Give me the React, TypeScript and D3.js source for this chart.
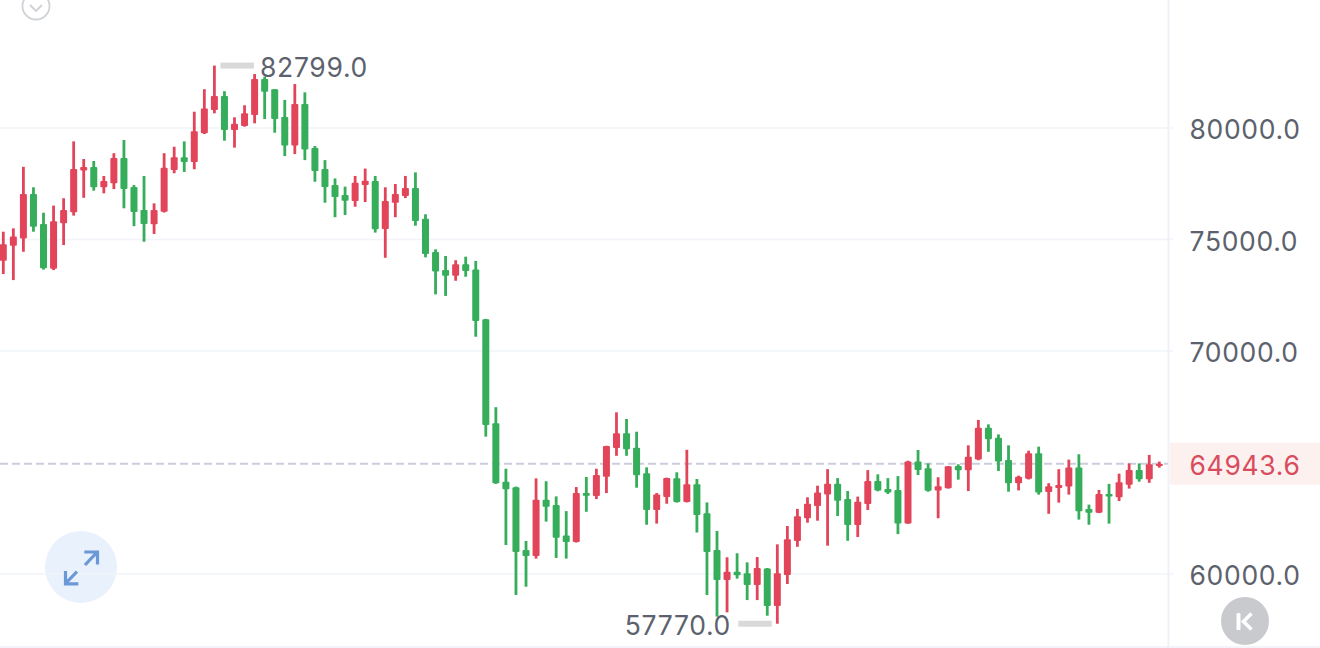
import React from "react";
import * as d3 from "d3";

const highs = [75350,75500,78260,77340,76200,76520,76850,79400,78610,78520,77850,78870,79460,77440,77850,76620,78870,79160,79400,80730,81740,82799,81650,80480,81020,82420,82300,81750,81260,81970,81600,79190,78560,77740,77370,77850,78180,77850,77340,77490,77850,78010,76130,74560,74260,74070,74230,74040,71440,67480,64720,63920,61480,64290,64160,63480,62820,63900,64350,64720,65750,67250,66950,66380,64780,63630,64320,64560,65570,64260,63210,61930,60750,60930,60520,60760,60270,61330,62150,62920,63440,63960,64700,64300,63720,63470,64660,64470,64300,64390,65080,65560,64960,64340,64840,64920,65770,66910,66710,66260,65770,64410,65530,65710,64070,64700,65130,65370,63110,63770,64040,64500,64960,64960,65340,65040];
const lows = [73450,73180,74450,75350,73650,73630,74750,76070,76870,77190,77070,77260,76400,75600,74900,75250,76210,77970,78030,78150,79730,80660,79430,79120,80060,80210,80400,79790,78740,78830,78560,77590,76650,76000,76100,76470,76680,75310,74180,76000,76860,75620,74200,72540,72470,73150,73330,70640,66160,64040,61300,59060,59430,60690,62350,60720,60690,61410,62790,63360,63630,65300,65300,63870,62210,62260,63150,63200,63210,61860,59060,58090,58280,59790,58830,58830,58130,57770,59550,61220,62300,62390,61270,62600,61490,61660,62870,63710,63590,61790,62250,64440,63690,62500,63830,64230,63720,65100,65480,64620,63690,63750,64240,63560,62700,63200,63560,62440,62210,62730,62260,63270,63830,64140,64090,64770];
const opens = [74050,74720,75040,77040,75700,73690,75730,76220,78090,78250,77340,77520,78650,77350,76320,75680,76250,78120,78690,78480,79760,80810,81430,79910,80090,80580,82200,81740,80490,79220,81080,79100,78160,77440,77000,76730,77440,77620,75470,76650,76950,77310,75930,74440,73630,73380,73890,73660,71420,66760,64140,63890,61080,60810,63330,63090,61730,61430,63630,63500,64360,65650,66310,65660,64520,62870,63450,64290,63230,64020,62720,61080,59730,60100,60030,59510,60250,58560,59960,61480,62500,63050,63560,64050,63360,62200,63140,64170,63810,63770,62270,65040,64740,63750,63840,64840,64650,65140,66560,66110,65110,64070,64270,65410,63680,63860,63920,64780,62920,62750,63590,63440,64000,64660,64250,64840];
const closes = [74790,75130,77040,75570,73710,75820,76320,78160,78250,77340,77620,78650,77260,76230,75700,76320,78220,78690,78480,79850,80880,81430,79910,80190,80660,82200,81630,80400,79220,81080,79040,78070,77350,76910,76740,77550,77640,75460,76730,77040,77310,75830,74350,73560,73380,73890,73590,71350,66680,64070,63800,60990,60810,63330,63020,61630,61430,63630,63510,64440,65740,66310,65590,64430,62870,63570,64310,63230,64020,62650,60990,59730,60100,59940,59510,60270,58560,60030,61560,62590,63150,63650,64050,63290,62200,63240,64170,63740,63660,62270,65040,64660,63730,63930,64830,64650,65260,66560,66040,65040,64070,64360,65410,63660,63930,63990,64780,62810,62750,63590,63470,64110,64660,64250,64920,64943.6];

const gridTicks = [60000, 70000, 75000, 80000];
const lastPrice = 64943.6;
const maxPrice = 82799;
const minPrice = 57770;

const UP = "#e2455a";
const DOWN = "#35ad5a";
const FONT = "Inter, 'Noto Sans', sans-serif";
const AXIS_TEXT = "#5c626d";
const GRID = "#f1f4f9";
const FONT_SIZE = 26.5;
const SPACING = 0.68;

export default function App() {
  const x = d3.scaleLinear().domain([0, highs.length - 1]).range([3.3, 1159.3]);
  const y = d3.scaleLinear().domain([60000, 80000]).range([574, 128]);
  const fmt = d3.format(".1f");
  const bodyW = 7;
  const wickW = 2.8;
  const hiIdx = highs.indexOf(maxPrice);
  const loIdx = lows.indexOf(minPrice);

  return (
    <svg
      width={1320}
      height={648}
      viewBox="0 0 1320 648"
      style={{ position: "fixed", left: 0, top: 0, display: "block", background: "#fff" }}
    >
      {/* expand button under grid */}
      <circle cx={81} cy={567} r={36} fill="#e9f1fc" />

      {gridTicks.map((t) => (
        <line key={t} x1={0} x2={1173} y1={y(t)} y2={y(t)} stroke={GRID} strokeWidth={1.6} />
      ))}
      <line x1={1168.5} x2={1168.5} y1={0} y2={648} stroke="#eef1f8" strokeWidth={2} />
      <line x1={0} x2={1320} y1={647} y2={647} stroke="#eef1f8" strokeWidth={1.5} />

      {/* last price line */}
      <line
        x1={0}
        x2={1168}
        y1={y(lastPrice)}
        y2={y(lastPrice)}
        stroke="#cbcddd"
        strokeWidth={2.2}
        strokeDasharray="8 4"
      />
      <rect x={1170} y={y(lastPrice) - 21} width={150} height={42} fill="#fdf1f0" />

      {/* candles */}
      {highs.map((h, i) => {
        const color = closes[i] >= opens[i] ? UP : DOWN;
        const top = y(Math.max(opens[i], closes[i]));
        const bot = y(Math.min(opens[i], closes[i]));
        return (
          <g key={i} fill={color}>
            <rect x={x(i) - wickW / 2} width={wickW} y={y(h)} height={y(lows[i]) - y(h)} />
            <rect x={x(i) - bodyW / 2} width={bodyW} y={top} height={Math.max(bot - top, 1)} rx={1} />
          </g>
        );
      })}

      {/* high / low markers */}
      <rect x={x(hiIdx) + 6} y={y(maxPrice) - 3} width={33.5} height={6} fill="#d9d9d9" />
      <text x={260} y={y(maxPrice) + 1.5} dominantBaseline="central" fontFamily={FONT} fontSize={FONT_SIZE} letterSpacing={SPACING} fill={AXIS_TEXT}>
        {fmt(maxPrice)}
      </text>
      <rect x={x(loIdx) - 39} y={y(minPrice) - 3} width={33.5} height={6} fill="#d9d9d9" />
      <text x={731} y={y(minPrice) + 1.5} textAnchor="end" dominantBaseline="central" fontFamily={FONT} fontSize={FONT_SIZE} letterSpacing={SPACING} fill={AXIS_TEXT}>
        {fmt(minPrice)}
      </text>

      {/* axis labels */}
      {gridTicks.map((t) => (
        <text key={t} x={1189.5} y={y(t) + 1} dominantBaseline="central" fontFamily={FONT} fontSize={FONT_SIZE} letterSpacing={SPACING} fill={AXIS_TEXT}>
          {fmt(t)}
        </text>
      ))}
      <text x={1189.5} y={y(lastPrice) + 1} dominantBaseline="central" fontFamily={FONT} fontSize={FONT_SIZE} letterSpacing={SPACING} fill="#d94c5d">
        {fmt(lastPrice)}
      </text>

      {/* expand icon */}
      <g fill="none" stroke="#6b98d6" strokeWidth={3.2}>
        <path d="M85 565L96.7 552.7M84.3 552H97.5V564.5" />
        <path d="M65.5 583.5L77 571.7M65.5 571V583.8H78.3" />
      </g>

      {/* top chevron button */}
      <circle cx={36} cy={6} r={13.5} fill="#fff" stroke="#cfd2d6" strokeWidth={1.8} />
      <path d="M30 5L36 11L42 5" fill="none" stroke="#cfd2d6" strokeWidth={1.8} />

      {/* scroll-to-latest button */}
      <circle cx={1245} cy={621} r={24} fill="#c8cacd" />
      <rect x={1236.5} y={613} width={4} height={17} rx={1} fill="#fff" />
      <path d="M1251.5 613.5L1243.5 621.5L1251.5 629.5" fill="none" stroke="#fff" strokeWidth={3.6} />
    </svg>
  );
}
